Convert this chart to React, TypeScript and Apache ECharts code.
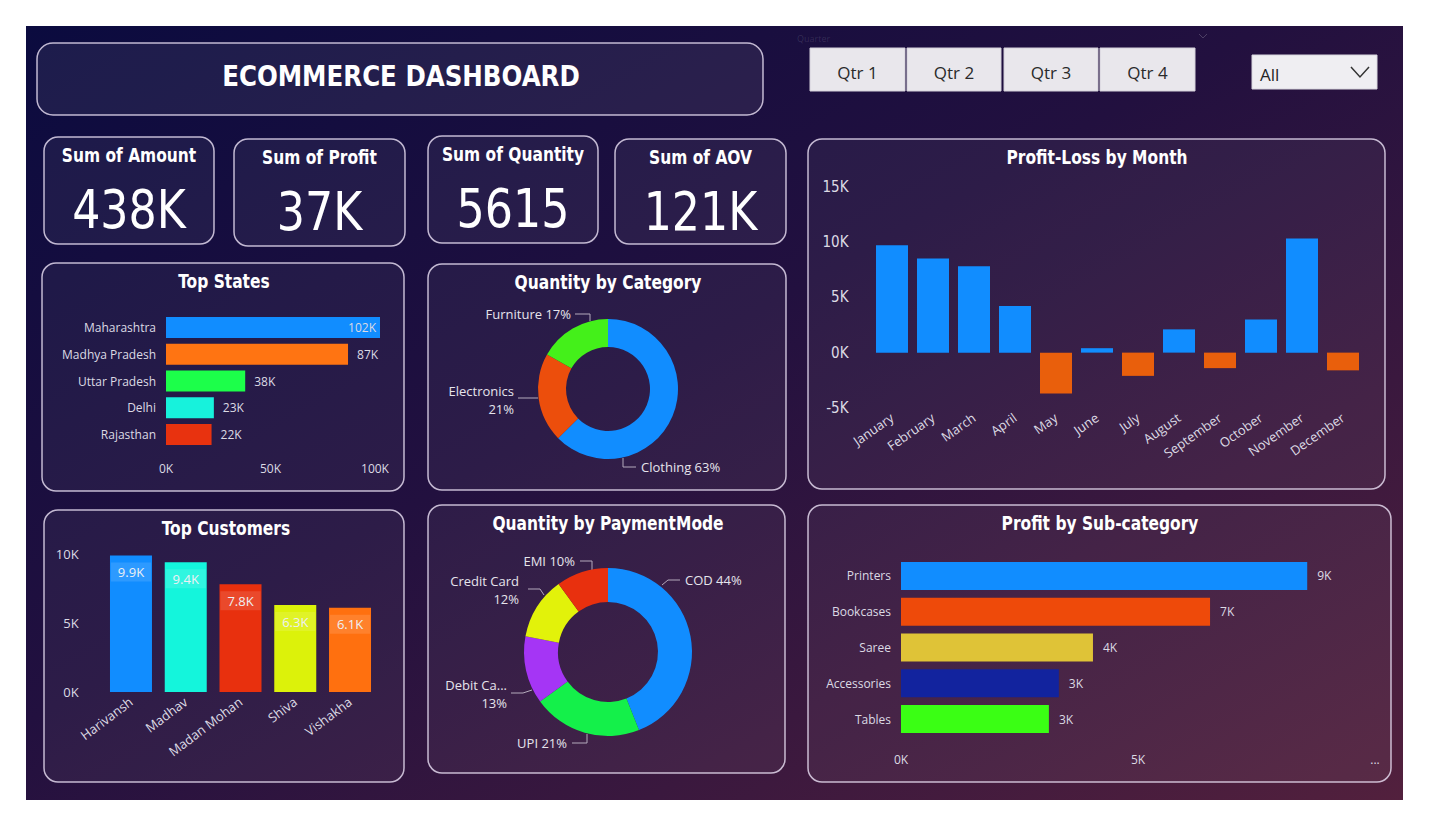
import React, { useEffect, useRef } from 'react';
import * as echarts from 'echarts';

// ---------- data ----------
const dashboardTitle = 'ECOMMERCE DASHBOARD';
const kpiTitles = ['Sum of Amount', 'Sum of Profit', 'Sum of Quantity', 'Sum of AOV'];
const kpiValues = ['438K', '37K', '5615', '121K'];
const quarters = ['Qtr 1', 'Qtr 2', 'Qtr 3', 'Qtr 4'];
const dropdownValue = 'All';

const states = ['Maharashtra', 'Madhya Pradesh', 'Uttar Pradesh', 'Delhi', 'Rajasthan'];
const stateAmounts = [102400, 87100, 37900, 22900, 21800];
const stateColors = ['#118DFF', '#FF7412', '#1CFF4A', '#17F2DC', '#E8320F'];

const categories = ['Clothing', 'Electronics', 'Furniture'];
const categoryQty = [3516, 1154, 945];
const categoryColors = ['#118DFF', '#EC4E0C', '#44F01A'];

const months = ['January', 'February', 'March', 'April', 'May', 'June', 'July', 'August', 'September', 'October', 'November', 'December'];
const monthProfit = [9700, 8500, 7800, 4200, -3700, 400, -2100, 2100, -1400, 3000, 10300, -1600];

const customers = ['Harivansh', 'Madhav', 'Madan Mohan', 'Shiva', 'Vishakha'];
const customerAmounts = [9900, 9400, 7800, 6300, 6100];
const customerColors = ['#118DFF', '#14F5DC', '#E8300E', '#DCF20A', '#FF700F'];

const paymentModes = ['COD', 'UPI', 'Debit Card', 'Credit Card', 'EMI'];
const paymentLabelNames = ['COD', 'UPI', 'Debit Ca...', 'Credit Card', 'EMI'];
const paymentQty = [2470, 1179, 730, 674, 562];
const paymentColors = ['#118DFF', '#14F04A', '#A535F5', '#E2F20A', '#E8300E'];

const subCategories = ['Printers', 'Bookcases', 'Saree', 'Accessories', 'Tables'];
const subCategoryProfit = [8570, 6520, 4050, 3330, 3120];
const subCategoryColors = ['#118DFF', '#EE4A0A', '#DFC337', '#12239E', '#3AFF14'];

// ---------- styles ----------
const condensed = "'Liberation Sans Narrow', 'DejaVu Sans Condensed', 'Roboto Condensed', Roboto, sans-serif";
const uiFont = "'Open Sans', 'Noto Sans', sans-serif";
const labelColor = '#dcdae4';
const panelStroke = 'rgba(236,226,246,0.8)';

const kText = (v: number) => Math.round(v / 1000) + 'K';

function txt(x: number, y: number, text: string, size: number, opts: any = {}) {
  return {
    type: 'text',
    x,
    y,
    scaleX: opts.scaleX || 1,
    silent: true,
    style: {
      text,
      fontSize: size,
      fontFamily: opts.fontFamily || condensed,
      fontWeight: opts.fontWeight || 'normal',
      fill: opts.fill || '#ffffff',
      align: opts.align || 'center',
      textAlign: opts.align || 'center',
      verticalAlign: 'middle',
      textVerticalAlign: 'middle',
    },
  };
}

function panel(x: number, y: number, w: number, h: number, r = 14, fill = 'rgba(255,255,255,0.05)') {
  return {
    type: 'rect',
    silent: true,
    shape: { x, y, width: w, height: h, r },
    style: { fill, stroke: panelStroke, lineWidth: 1.5 },
  };
}

// label placement (layout only) for the two donuts, Power BI style
const categoryLabelLayout: any[] = [
  { x: 641, y: 467, align: 'left', line: [[623, 458], [623, 467], [636, 467]] },
  { x: 514, y: 400, align: 'right', line: [[538, 398], [528, 398], [518, 398]] },
  { x: 571, y: 314, align: 'right', line: [[590, 321], [590, 314], [575, 314]] },
];
const paymentLabelLayout: any[] = [
  { x: 685, y: 580, align: 'left', line: [[662, 585], [668, 580], [680, 580]] },
  { x: 567, y: 743, align: 'right', line: [[587, 734], [587, 743], [572, 743]] },
  { x: 507, y: 694, align: 'right', line: [[532, 690], [523, 693], [511, 693]] },
  { x: 519, y: 590, align: 'right', line: [[544, 595], [540, 589], [528, 589]] },
  { x: 575, y: 561, align: 'right', line: [[592, 570], [592, 561], [580, 561]] },
];

function buildOption(): any {
  const kpiBoxes = [
    [44, 137, 170, 107],
    [234, 139, 171, 107],
    [428, 136, 170, 107],
    [615, 139, 171, 105],
  ];
  const qtrBoxes = [
    [810, 48, 95, 43],
    [907, 48, 94, 43],
    [1004, 48, 94, 43],
    [1100, 48, 95, 43],
  ];
  const titleOpts = { fontWeight: 'bold', scaleX: 0.86 };

  const graphics: any[] = [
    {
      type: 'rect',
      silent: true,
      shape: { x: 26, y: 26, width: 1377, height: 774 },
      style: {
        fill: new echarts.graphic.LinearGradient(0, 0, 1, 1, [
          { offset: 0, color: '#0b0b3f' },
          { offset: 0.45, color: '#22103f' },
          { offset: 1, color: '#52203d' },
        ]),
      },
    },
    panel(37, 43, 726, 72, 16, 'rgba(255,255,255,0.07)'),
    txt(401, 76, dashboardTitle, 29, { fontWeight: 'bold', scaleX: 0.94 }),
    txt(797, 38, 'Quarter', 9, { align: 'left', fill: 'rgba(255,255,255,0.12)', fontFamily: uiFont }),
    {
      type: 'polyline',
      silent: true,
      shape: { points: [[1199, 34], [1203, 38], [1207, 34]] },
      style: { stroke: 'rgba(255,255,255,0.2)', lineWidth: 1, fill: 'none' },
    },
    {
      type: 'rect',
      silent: true,
      shape: { x: 1252, y: 55, width: 125, height: 34 },
      style: { fill: '#efeef2', stroke: '#d8d6de', lineWidth: 1 },
    },
    txt(1260, 74, dropdownValue, 17, { align: 'left', fill: '#252525', fontFamily: uiFont }),
    {
      type: 'polyline',
      silent: true,
      shape: { points: [[1351, 67], [1360, 77], [1369, 67]] },
      style: { stroke: '#333333', lineWidth: 1.5, fill: 'none' },
    },
    panel(42, 263, 362, 228),
    panel(428, 264, 358, 226),
    panel(808, 139, 577, 350),
    panel(44, 510, 360, 272),
    panel(428, 505, 357, 268),
    panel(808, 505, 583, 277),
    txt(224, 281, 'Top States', 20, titleOpts),
    txt(608, 282, 'Quantity by Category', 20, titleOpts),
    txt(1097, 157, 'Profit-Loss by Month', 20, titleOpts),
    txt(226, 528, 'Top Customers', 20, titleOpts),
    txt(608, 523, 'Quantity by PaymentMode', 20, titleOpts),
    txt(1100, 523, 'Profit by Sub-category', 20, titleOpts),
  ];

  kpiBoxes.forEach((b, i) => {
    graphics.push(panel(b[0], b[1], b[2], b[3], 14, 'rgba(255,255,255,0.06)'));
    graphics.push(txt(b[0] + b[2] / 2, b[1] + 18, kpiTitles[i], 20, titleOpts));
    graphics.push(txt(b[0] + b[2] / 2, b[1] + 73, kpiValues[i], 53, { scaleX: 0.93 }));
  });
  qtrBoxes.forEach((b, i) => {
    graphics.push({
      type: 'rect',
      silent: true,
      shape: { x: b[0], y: b[1], width: b[2], height: b[3] },
      style: { fill: '#e9e7ec', stroke: '#d4d0da', lineWidth: 1 },
    });
    graphics.push(txt(b[0] + b[2] / 2, b[1] + 24, quarters[i], 17, { fill: '#2a2a2a', fontFamily: uiFont }));
  });

  const hiddenAxis = { axisLine: { show: false }, axisTick: { show: false }, splitLine: { show: false } };

  const pieLabel = (names: string[], values: number[], wrap: string[]) => {
    const total = values.reduce((a, b) => a + b, 0);
    return {
      color: '#e6e4ec',
      fontSize: 13,
      fontFamily: uiFont,
      lineHeight: 18,
      formatter: (p: any) => {
        const pct = Math.round((p.value / total) * 100) + '%';
        const shown = names[p.dataIndex];
        return wrap.indexOf(shown) >= 0 ? shown + '\n' + pct : shown + ' ' + pct;
      },
    };
  };
  const pieLayout = (table: any[]) => (params: any) => {
    const t = table[params.dataIndex];
    if (!t) return {};
    return {
      x: t.x,
      y: t.y,
      align: t.align,
      verticalAlign: 'middle',
      labelLinePoints: t.line,
    };
  };

  return {
    animation: false,
    graphic: { elements: graphics },
    grid: [
      { left: 166, top: 314, width: 214, height: 134 },
      { left: 871.5, top: 186.5, width: 492, height: 221.5 },
      { left: 103.6, top: 554, width: 273.8, height: 138 },
      { left: 901, top: 558, width: 474, height: 179 },
    ],
    xAxis: [
      {
        gridIndex: 0, type: 'value', min: 0, max: 102400, interval: 50000, ...hiddenAxis,
        axisLabel: { color: labelColor, fontSize: 12, fontFamily: uiFont, margin: 14, showMaxLabel: false, formatter: (v: number) => v / 1000 + 'K' },
      },
      {
        gridIndex: 1, type: 'category', data: months, ...hiddenAxis,
        axisLine: { show: false, onZero: false },
        axisLabel: { color: labelColor, fontSize: 13, fontFamily: uiFont, rotate: 35, margin: 8, interval: 0 },
      },
      {
        gridIndex: 2, type: 'category', data: customers, ...hiddenAxis,
        axisLabel: { color: labelColor, fontSize: 13, fontFamily: uiFont, rotate: 37, margin: 8, interval: 0 },
      },
      {
        gridIndex: 3, type: 'value', min: 0, max: 10000, interval: 5000, ...hiddenAxis,
        axisLabel: {
          color: labelColor, fontSize: 12, fontFamily: uiFont, margin: 16,
          formatter: (v: number) => (v === 10000 ? '...' : v / 1000 + 'K'),
        },
      },
    ],
    yAxis: [
      {
        gridIndex: 0, type: 'category', data: states, inverse: true, ...hiddenAxis,
        axisLabel: { color: labelColor, fontSize: 12, fontFamily: uiFont, margin: 10 },
      },
      {
        gridIndex: 1, type: 'value', min: -5000, max: 15000, interval: 5000, ...hiddenAxis,
        axisLabel: { color: labelColor, fontSize: 15, fontFamily: condensed, margin: 23, formatter: (v: number) => v / 1000 + 'K' },
      },
      {
        gridIndex: 2, type: 'value', min: 0, max: 10000, interval: 5000, ...hiddenAxis,
        axisLabel: { color: labelColor, fontSize: 13, fontFamily: uiFont, margin: 25, formatter: (v: number) => v / 1000 + 'K' },
      },
      {
        gridIndex: 3, type: 'category', data: subCategories, inverse: true, ...hiddenAxis,
        axisLabel: { color: labelColor, fontSize: 12, fontFamily: uiFont, margin: 10 },
      },
    ],
    series: [
      {
        type: 'bar', xAxisIndex: 0, yAxisIndex: 0, barWidth: 21,
        data: stateAmounts.map((v, i) => ({
          value: v,
          itemStyle: { color: stateColors[i] },
          label: i === 0 ? { position: 'insideRight', distance: 4 } : undefined,
        })),
        label: { show: true, position: 'right', distance: 9, color: labelColor, fontSize: 12, fontFamily: uiFont, formatter: (p: any) => kText(p.value) },
      },
      {
        type: 'bar', xAxisIndex: 1, yAxisIndex: 1, barWidth: 32,
        data: monthProfit.map((v) => ({ value: v, itemStyle: { color: v >= 0 ? '#118DFF' : '#E95F0C' } })),
      },
      {
        type: 'bar', xAxisIndex: 2, yAxisIndex: 2, barWidth: 42,
        data: customerAmounts.map((v, i) => ({ value: v, itemStyle: { color: customerColors[i] } })),
        label: {
          show: true, position: 'insideTop', distance: 7, color: '#eef0f4', fontSize: 13, fontFamily: uiFont,
          backgroundColor: 'rgba(255,255,255,0.12)', padding: [3, 7],
          formatter: (p: any) => (p.value / 1000).toFixed(1) + 'K',
        },
      },
      {
        type: 'bar', xAxisIndex: 3, yAxisIndex: 3, barWidth: 28,
        data: subCategoryProfit.map((v, i) => ({ value: v, itemStyle: { color: subCategoryColors[i] } })),
        label: { show: true, position: 'right', distance: 10, color: labelColor, fontSize: 12, fontFamily: uiFont, formatter: (p: any) => kText(p.value) },
      },
      {
        type: 'pie', center: [608, 389], radius: [42, 70], startAngle: 90, clockwise: true,
        data: categories.map((n, i) => ({ name: n, value: categoryQty[i], itemStyle: { color: categoryColors[i] } })),
        label: pieLabel(categories, categoryQty, ['Electronics']),
        labelLine: { show: true, length: 10, length2: 14, lineStyle: { color: '#b4aabc', width: 1 } },
        labelLayout: pieLayout(categoryLabelLayout),
      },
      {
        type: 'pie', center: [608, 652], radius: [50, 84], startAngle: 90, clockwise: true,
        data: paymentModes.map((n, i) => ({ name: n, value: paymentQty[i], itemStyle: { color: paymentColors[i] } })),
        label: pieLabel(paymentLabelNames, paymentQty, ['Credit Card', 'Debit Ca...']),
        labelLine: { show: true, length: 10, length2: 14, lineStyle: { color: '#b4aabc', width: 1 } },
        labelLayout: pieLayout(paymentLabelLayout),
      },
    ],
  };
}

export default function App() {
  const ref = useRef<HTMLDivElement>(null);
  useEffect(() => {
    if (!ref.current) return;
    const chart = echarts.init(ref.current, null, { renderer: 'svg' });
    chart.setOption(buildOption());
    return () => chart.dispose();
  }, []);
  return (
    <div
      ref={ref}
      style={{ position: 'fixed', left: 0, top: 0, width: 1429, height: 826, background: '#ffffff' }}
    />
  );
}
